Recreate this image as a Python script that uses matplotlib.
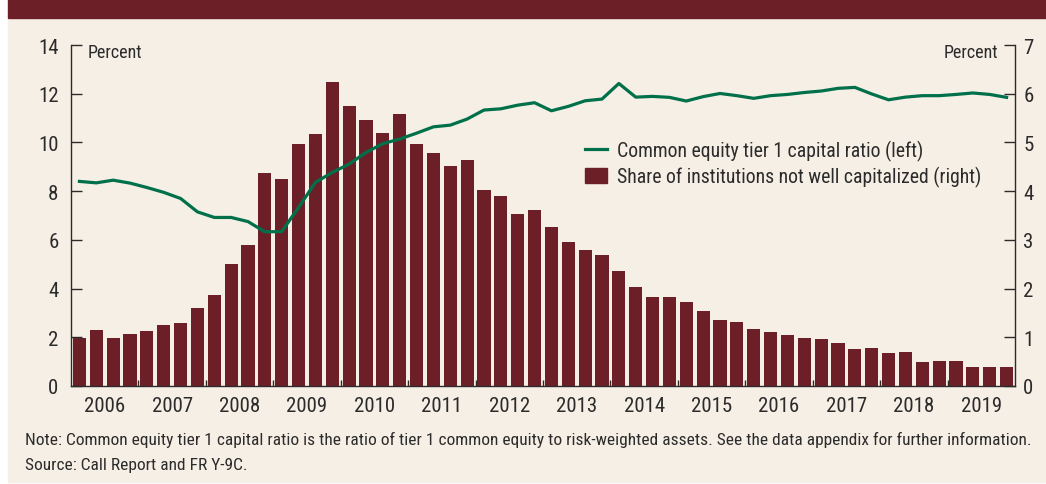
import numpy as np
import matplotlib.pyplot as plt
from matplotlib.patches import Rectangle
from matplotlib.lines import Line2D
from matplotlib import font_manager

years = list(range(2006, 2020))

# share of institutions not well capitalized, percent (right axis), quarterly 2006Q1-2019Q4
share_not_well_cap = [
    0.98, 1.14, 0.98, 1.06, 1.12, 1.25, 1.29, 1.60,
    1.86, 2.50, 2.89, 4.37, 4.25, 4.97, 5.17, 6.24,
    5.75, 5.46, 5.19, 5.58, 4.97, 4.78, 4.51, 4.64,
    4.02, 3.90, 3.53, 3.61, 3.26, 2.95, 2.79, 2.68,
    2.36, 2.03, 1.82, 1.82, 1.72, 1.53, 1.35, 1.31,
    1.18, 1.10, 1.04, 0.98, 0.96, 0.88, 0.75, 0.79,
    0.67, 0.69, 0.49, 0.51, 0.51, 0.40, 0.38, 0.38,
]

# common equity tier 1 capital ratio, percent (left axis)
cet1_ratio = [
    8.40, 8.34, 8.45, 8.33, 8.15, 7.95, 7.70, 7.15,
    6.92, 6.92, 6.75, 6.33, 6.34, 7.33, 8.36, 8.77,
    9.11, 9.59, 9.95, 10.14, 10.38, 10.64, 10.71, 10.96,
    11.33, 11.38, 11.53, 11.63, 11.30, 11.48, 11.71, 11.78,
    12.42, 11.86, 11.89, 11.85, 11.70, 11.88, 12.01, 11.92,
    11.81, 11.92, 11.97, 12.05, 12.11, 12.22, 12.26, 11.99,
    11.75, 11.86, 11.92, 11.92, 11.97, 12.03, 11.97, 11.85,
]

note = ('Note: Common equity tier 1 capital ratio is the ratio of tier 1 common equity to '
        'risk-weighted assets. See the data appendix for further information.')
source = 'Source: Call Report and FR Y-9C.'

# condensed face like the original, first one that is installed
names = {f.name for f in font_manager.fontManager.ttflist}
fam = 'DejaVu Sans'
for cand in ['Roboto Condensed', 'Archivo Narrow', 'PT Sans Narrow', 'Liberation Sans Narrow']:
    if cand in names:
        fam = cand
        break
plt.rcParams['font.family'] = [fam, 'DejaVu Sans']

cream = '#f6efe5'
maroon = '#6d1f27'
green = '#00704a'
ink = '#2b2b2b'

fig = plt.figure(figsize=(10.46, 4.85), dpi=100)
fig.patch.set_facecolor('white')
fig.patches.append(Rectangle((8 / 1046, 2 / 485), 1 - 8 / 1046, 464 / 485,
                             transform=fig.transFigure, color=cream, zorder=-10))
fig.patches.append(Rectangle((8 / 1046, 466 / 485), 1 - 8 / 1046, 19 / 485,
                             transform=fig.transFigure, color=maroon, zorder=-10))

ax = fig.add_axes([71 / 1046, 1 - 387 / 485, 944 / 1046, 341 / 485])
ax2 = ax.twinx()
ax.set_zorder(ax2.get_zorder() + 1)
ax.patch.set_visible(False)
ax2.set_facecolor(cream)

x = np.arange(len(share_not_well_cap))
ax2.bar(x, share_not_well_cap, width=0.78, color=maroon)
ax.plot(x, cet1_ratio, color=green, lw=2.3, solid_joinstyle='round')

ax.set_xlim(-0.5, len(x) - 0.5)
ax.set_ylim(0, 14)
ax2.set_ylim(0, 7)
ax.set_yticks(range(0, 15, 2))
ax2.set_yticks(range(0, 8))

ax.set_xticks([4 * i + 1.5 for i in range(len(years))])
ax.set_xticklabels([str(y) for y in years])
ax.set_xticks([4 * i + 3.5 for i in range(len(years) - 1)], minor=True)

for a in (ax, ax2):
    for s in a.spines.values():
        s.set_visible(False)
    a.tick_params(axis='y', direction='in', length=8, width=1, color=ink,
                  labelsize=15, labelcolor=ink)
ax.spines['left'].set_visible(True)
ax.spines['bottom'].set_visible(True)
ax2.spines['right'].set_visible(True)
for s in (ax.spines['left'], ax.spines['bottom'], ax2.spines['right']):
    s.set_color(ink)
    s.set_linewidth(1)
ax.tick_params(axis='y', pad=9)
ax2.tick_params(axis='y', pad=6)
ax.tick_params(axis='x', which='major', length=0, pad=7, labelsize=15, labelcolor=ink)
ax.tick_params(axis='x', which='minor', direction='in', length=4.5, width=1, color=ink)

ax.text(0.018, 13.72, 'Percent', transform=ax.get_yaxis_transform(),
        ha='left', va='center', fontsize=13, color=ink)
ax.text(0.982, 13.72, 'Percent', transform=ax.get_yaxis_transform(),
        ha='right', va='center', fontsize=13, color=ink)

handles = [Line2D([], [], color=green, lw=2.3),
           Rectangle((0, 0), 1, 1, color=maroon)]
labels = ['Common equity tier 1 capital ratio (left)',
          'Share of institutions not well capitalized (right)']
ax.legend(handles, labels, loc='upper left', bbox_to_anchor=(575 / 1046, 1 - 131 / 485),
          bbox_transform=fig.transFigure, frameon=False, fontsize=14.2,
          handlelength=1.1, handleheight=0.85, handletextpad=0.55, labelspacing=0.25,
          borderpad=0, labelcolor=ink)

t_note = fig.text(25 / 1046, 1 - 440 / 485, note, ha='left', va='center',
                  fontsize=12.5, color=ink)
t_src = fig.text(25 / 1046, 1 - 466 / 485, source, ha='left', va='center',
                 fontsize=12.5, color=ink)
# fit the note to the width it takes in the original
r = fig.canvas.get_renderer()
w = t_note.get_window_extent(r).width
fs = 12.5 * min(1.15, 1007 / w)
t_note.set_fontsize(fs)
t_src.set_fontsize(fs)

fig.savefig('out.png', dpi=100, facecolor=fig.get_facecolor())
